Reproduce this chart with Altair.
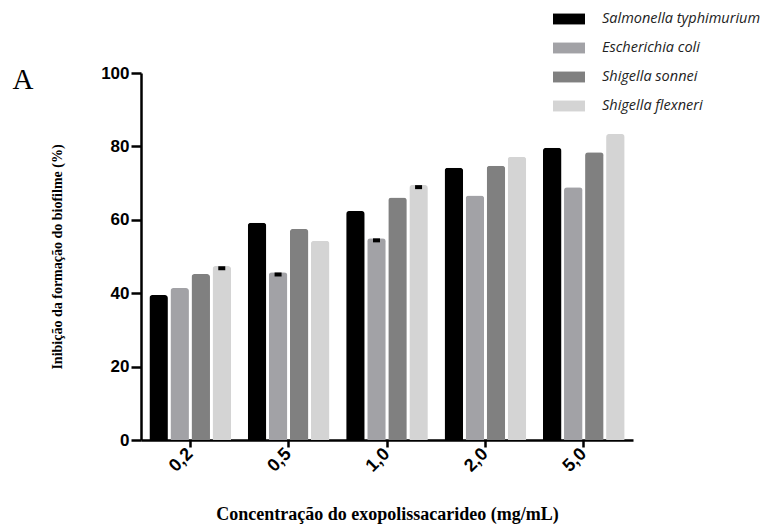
import altair as alt
import pandas as pd

concentrations = ["0,2", "0,5", "1,0", "2,0", "5,0"]
species = ["Salmonella typhimurium", "Escherichia coli", "Shigella sonnei", "Shigella flexneri"]
salmonella = [39.5, 59.2, 62.4, 74.2, 79.6]
ecoli = [41.4, 45.7, 55.0, 66.6, 68.9]
sonnei = [45.2, 57.5, 66.1, 74.7, 78.4]
flexneri = [47.4, 54.3, 69.5, 77.2, 83.4]
colors = ["#000000", "#a2a2a6", "#808080", "#d4d4d4"]

# small error caps visible in the figure
err_conc = ["0,2", "0,5", "1,0", "1,0"]
err_species = ["Shigella flexneri", "Escherichia coli", "Escherichia coli", "Shigella flexneri"]
err_value = [46.8, 45.1, 54.4, 68.9]

series = [salmonella, ecoli, sonnei, flexneri]
rows = []
for sp, vals in zip(species, series):
    for c, v in zip(concentrations, vals):
        rows.append({"conc": c, "species": sp, "value": v})
df = pd.DataFrame(rows)
err_df = pd.DataFrame({"conc": err_conc, "species": err_species, "value": err_value})

x_enc = alt.X("conc:N", sort=concentrations,
              scale=alt.Scale(paddingInner=0.17, paddingOuter=0.085),
              axis=alt.Axis(title="Concentração do exopolissacarideo (mg/mL)",
                            labelAngle=-45, labelAlign="right", labelBaseline="middle",
                            labelFont="Liberation Sans", labelFontWeight="bold",
                            labelFontSize=18, labelColor="black", labelPadding=4,
                            titleFont="Liberation Serif", titleFontWeight="bold",
                            titleFontSize=18, titleColor="black", titlePadding=30,
                            domainColor="black", domainWidth=2.5, tickColor="black",
                            tickWidth=2.5, tickSize=7))
xoff = alt.XOffset("species:N", sort=species, scale=alt.Scale(paddingInner=0.12))

bars = alt.Chart(df).mark_bar(cornerRadiusTopLeft=3, cornerRadiusTopRight=3).encode(
    x=x_enc,
    xOffset=xoff,
    y=alt.Y("value:Q", scale=alt.Scale(domain=[0, 100], nice=False),
            axis=alt.Axis(title="Inibição da formação do biofilme (%)", values=[0, 20, 40, 60, 80, 100],
                          labelFont="Liberation Sans", labelFontWeight="bold", labelFontSize=17,
                          labelColor="black", labelPadding=2,
                          titleFont="Liberation Serif", titleFontWeight="bold", titleFontSize=14,
                          titleColor="black", titlePadding=36,
                          domainColor="black", domainWidth=2.5, tickColor="black",
                          tickWidth=2.5, tickSize=10, grid=False)),
    color=alt.Color("species:N", sort=species,
                    scale=alt.Scale(domain=species, range=colors),
                    legend=alt.Legend(title=None, orient="none", legendX=420, legendY=-62,
                                      symbolType="M-2,-0.68H2V0.68H-2Z", symbolSize=256,
                                      symbolStrokeWidth=0, symbolOpacity=1,
                                      labelFont="Open Sans", labelFontStyle="italic",
                                      labelFontSize=14.5, labelColor="#222222", labelLimit=300,
                                      labelOffset=25, rowPadding=14.0, padding=0)),
)

caps = alt.Chart(err_df).mark_tick(color="black", size=7, thickness=4, opacity=1).encode(
    x=alt.X("conc:N", sort=concentrations),
    xOffset=alt.XOffset("species:N", sort=species),
    y=alt.Y("value:Q"),
)

label_a = alt.Chart(pd.DataFrame({"t": ["A"]})).mark_text(
    font="Liberation Serif", fontSize=29, color="black", align="center", baseline="middle"
).encode(x=alt.value(-118), y=alt.value(7), text="t:N")

chart = alt.layer(bars, caps, label_a).properties(
    width=492, height=367,
    autosize=alt.AutoSizeParams(type="none"),
    padding={"left": 133, "top": 65, "right": 137, "bottom": 89},
).configure_view(stroke=None).configure_axis(labelOverlap=False)

chart.save("out.html", embed_options={"renderer": "svg", "actions": False})
